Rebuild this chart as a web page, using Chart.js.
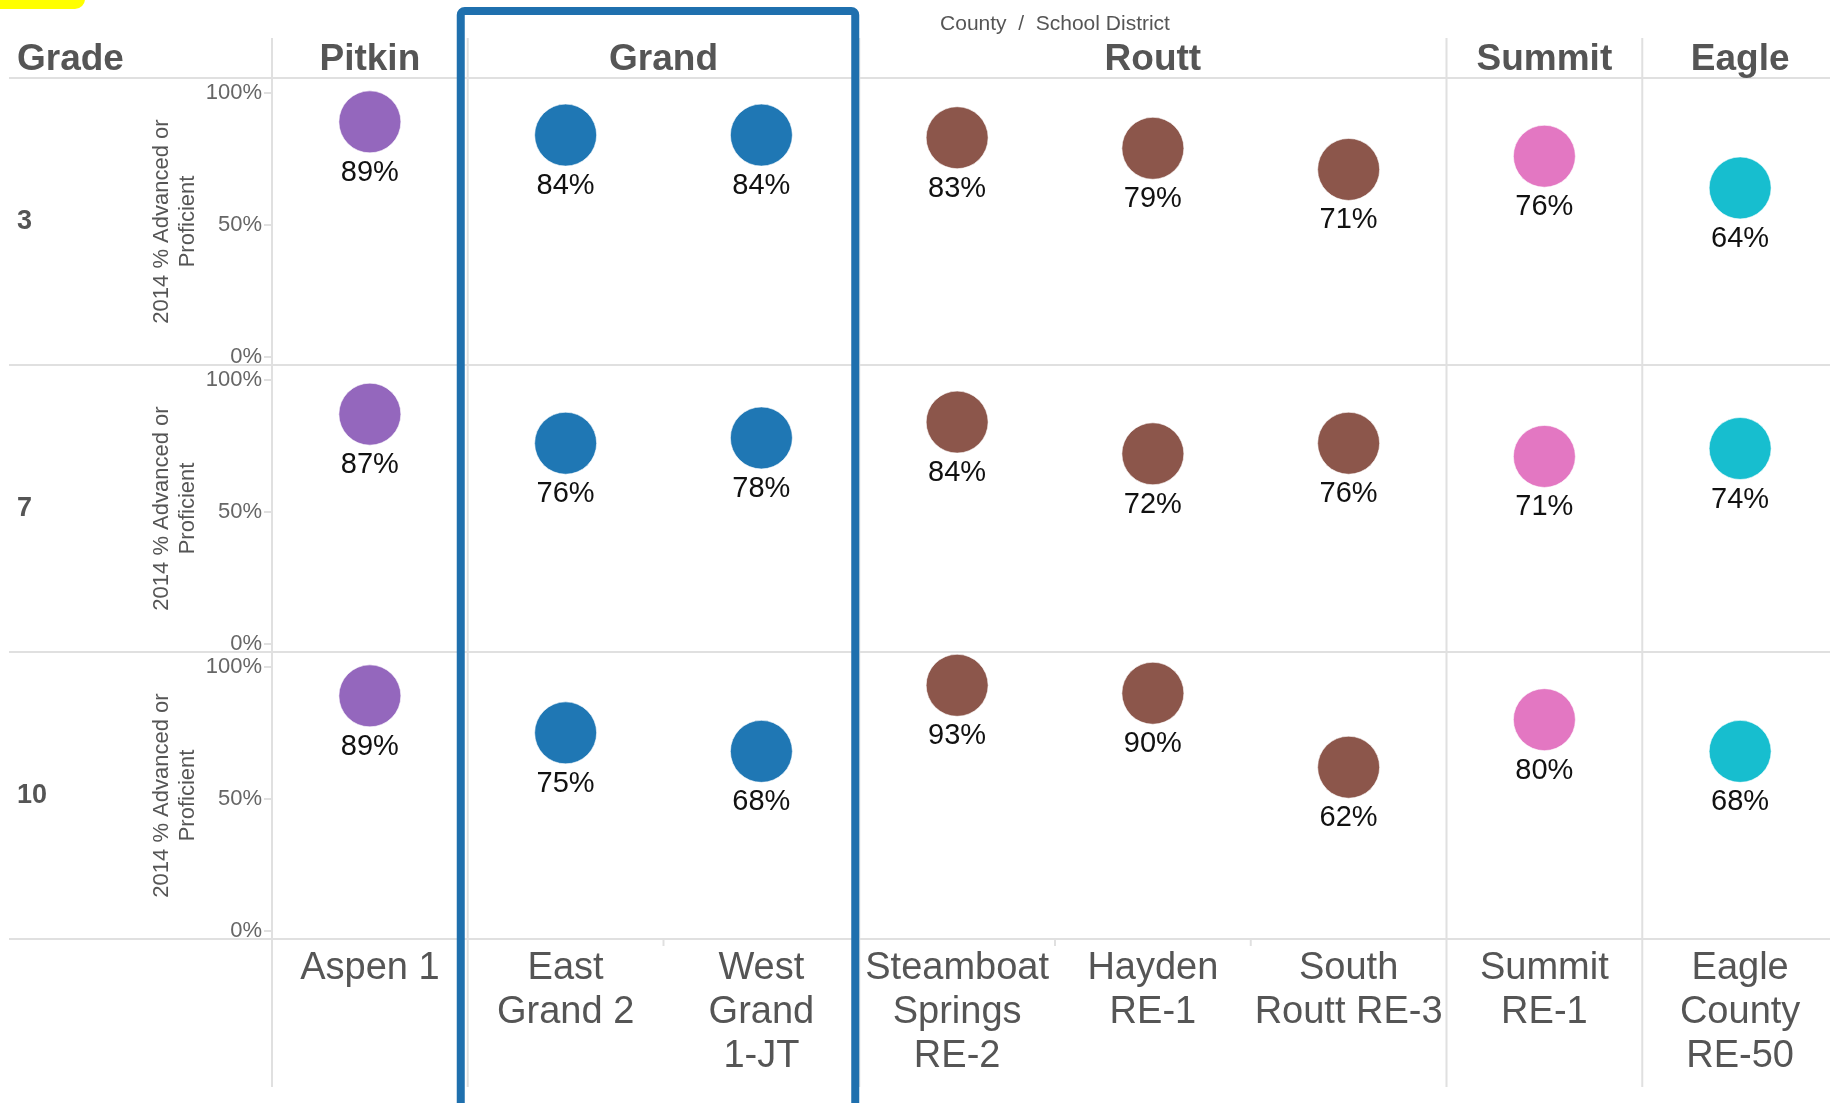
<!DOCTYPE html>
<html lang="en">
<head>
<meta charset="UTF-8"/>
<title>2014 % Advanced or Proficient by District</title>
<script src="https://cdn.jsdelivr.net/npm/chart.js"></script>
<style>
  html, body { margin: 0; padding: 0; background: #fff; overflow: hidden; }
  canvas { display: block; }
</style>
</head>
<body>
<canvas id="chart" width="1870" height="1103"></canvas>
<script>
  // districts along the bottom, in display order (multi-line labels)
  const districts = [['Aspen 1'], ['East', 'Grand 2'], ['West', 'Grand', '1-JT'],
    ['Steamboat', 'Springs', 'RE-2'], ['Hayden', 'RE-1'], ['South', 'Routt RE-3'],
    ['Summit', 'RE-1'], ['Eagle', 'County', 'RE-50']];
  const counties = ['Pitkin', 'Grand', 'Routt', 'Summit', 'Eagle'];
  const countySpans = [1, 2, 3, 1, 1];
  const countyColors = ['#9467bd', '#1f77b4', '#8c564b', '#e377c2', '#17becf'];
  const grades = ['3', '7', '10'];
  const grade3 = [89, 84, 84, 83, 79, 71, 76, 64];
  const grade7 = [87, 76, 78, 84, 72, 76, 71, 74];
  const grade10 = [89, 75, 68, 93, 90, 62, 80, 68];
  const yTicks = [0, 50, 100];

  const FONT = '"Liberation Sans", Arial, sans-serif';
  const GRID = '#e0e0e0';
  const TXT = '#555';

  // colour of each district = colour of its county
  const pointColors = [];
  countySpans.forEach((n, i) => { for (let k = 0; k < n; k++) pointColors.push(countyColors[i]); });

  function rowScale() {
    return {
      type: 'linear', position: 'left', stack: 'rows', stackWeight: 1,
      min: -3, max: 105.6,
      afterBuildTicks: s => { s.ticks = yTicks.map(v => ({ value: v })); },
      afterFit: s => { s.width = 272; },
      grid: { drawOnChartArea: false, drawTicks: true, tickLength: 8, color: GRID, lineWidth: 2 },
      border: { display: false },
      ticks: { padding: 2, color: '#666', font: { family: FONT, size: 22 }, callback: v => v + '%' }
    };
  }

  function ds(label, data, axis) {
    return {
      label: label, data: data, yAxisID: axis, showLine: false,
      pointRadius: 31, pointHoverRadius: 31, pointBorderWidth: 1,
      pointBackgroundColor: pointColors, pointBorderColor: 'rgba(255,255,255,0.6)'
    };
  }

  const decor = {
    id: 'decor',
    beforeDraw(chart) {
      const ctx = chart.ctx, x = chart.scales.x;
      const w = (x.right - x.left) / districts.length;
      ctx.save();
      // yellow mark at the very top left
      ctx.fillStyle = '#ffff00';
      ctx.beginPath(); ctx.roundRect(-20, -20, 105, 29, 10); ctx.fill();
      ctx.strokeStyle = GRID; ctx.lineWidth = 2;
      // horizontal separators: header line + row borders
      const ys = [chart.scales.y3.top, chart.scales.y3.bottom, chart.scales.y7.bottom, chart.scales.y10.bottom];
      ys.forEach(y => { ctx.beginPath(); ctx.moveTo(9, y); ctx.lineTo(chart.width, y); ctx.stroke(); });
      // vertical separators between counties (and the axis line)
      let idx = 0;
      countySpans.forEach(n => {
        const bx = x.left + idx * w;
        ctx.beginPath(); ctx.moveTo(bx, 38); ctx.lineTo(bx, 1087); ctx.stroke();
        for (let k = 1; k < n; k++) {
          const sx = x.left + (idx + k) * w;
          ctx.beginPath(); ctx.moveTo(sx, x.top); ctx.lineTo(sx, x.top + 7); ctx.stroke();
        }
        idx += n;
      });
      ctx.restore();
    },
    afterDatasetsDraw(chart) {
      const ctx = chart.ctx;
      ctx.save();
      ctx.font = '29px ' + FONT;
      ctx.fillStyle = '#111';
      ctx.textAlign = 'center'; ctx.textBaseline = 'middle';
      chart.data.datasets.forEach((d, di) => {
        chart.getDatasetMeta(di).data.forEach((pt, i) => {
          ctx.fillText(d.data[i] + '%', pt.x, pt.y + 51);
        });
      });
      ctx.restore();
    },
    afterDraw(chart) {
      const ctx = chart.ctx, x = chart.scales.x;
      const w = (x.right - x.left) / districts.length;
      ctx.save();
      ctx.fillStyle = TXT;
      ctx.textBaseline = 'middle';
      // headers
      ctx.font = 'bold 37px ' + FONT;
      ctx.textAlign = 'left';
      ctx.fillText('Grade', 17, 60);
      ctx.textAlign = 'center';
      let idx = 0;
      counties.forEach((c, i) => {
        ctx.fillText(c, x.left + (idx + countySpans[i] / 2) * w, 60);
        idx += countySpans[i];
      });
      ctx.font = '21px ' + FONT;
      ctx.fillText('County  /  School District', x.left + 4 * w, 24);
      // row labels and axis titles
      ['y3', 'y7', 'y10'].forEach((id, r) => {
        const s = chart.scales[id];
        const mid = (s.top + s.bottom) / 2;
        ctx.font = 'bold 27px ' + FONT;
        ctx.textAlign = 'left';
        ctx.fillText(grades[r], 17, mid);
        ctx.save();
        ctx.translate(162, mid);
        ctx.rotate(-Math.PI / 2);
        ctx.textAlign = 'center';
        ctx.font = '22px ' + FONT;
        ctx.fillText('2014 % Advanced or', 0, 0);
        ctx.fillText('Proficient', 0, 26);
        ctx.restore();
      });
      // highlight box around Grand
      ctx.strokeStyle = '#1f70ae';
      ctx.lineWidth = 8;
      const gx0 = x.left + 1 * w - 11, gx1 = x.left + 3 * w;
      ctx.beginPath(); ctx.roundRect(gx0 + 4, 11, gx1 - gx0 - 8, 1100, 4); ctx.stroke();
      ctx.restore();
    }
  };

  new Chart(document.getElementById('chart').getContext('2d'), {
    type: 'line',
    data: {
      labels: districts,
      datasets: [ds('Grade 3', grade3, 'y3'), ds('Grade 7', grade7, 'y7'), ds('Grade 10', grade10, 'y10')]
    },
    options: {
      responsive: false,
      animation: false,
      layout: { padding: { top: 78, left: 0, right: 0, bottom: 0 } },
      plugins: { legend: { display: false }, tooltip: { enabled: false } },
      scales: {
        x: {
          type: 'category', offset: true, position: 'bottom',
          afterFit: s => { s.height = 164; s.paddingLeft = 0; s.paddingRight = 0; },
          grid: { display: false, drawTicks: false },
          border: { display: false },
          ticks: { autoSkip: false, maxRotation: 0, minRotation: 0, padding: 7, color: TXT,
                   font: { family: FONT, size: 38, lineHeight: 1.16 } }
        },
        // stacked left axes: last one listed ends up on top
        y10: rowScale(),
        y7: rowScale(),
        y3: rowScale()
      }
    },
    plugins: [decor]
  });
</script>
</body>
</html>
